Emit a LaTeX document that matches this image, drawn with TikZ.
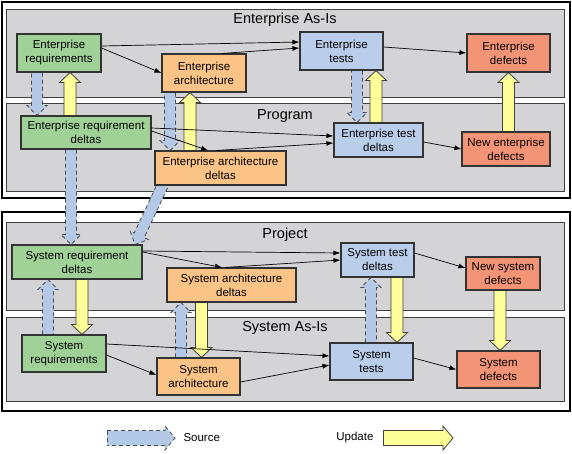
\documentclass[tikz,border=0pt]{standalone}
\usepackage{fontspec}
\setmainfont{Liberation Sans}
\usetikzlibrary{calc,arrows.meta}

\definecolor{panelgray}{RGB}{212,212,214}
\definecolor{reqgreen}{RGB}{160,210,152}
\definecolor{archorange}{RGB}{251,196,134}
\definecolor{testblue}{RGB}{186,205,235}
\definecolor{defred}{RGB}{244,148,118}
\definecolor{srcblue}{RGB}{180,200,232}
\definecolor{updyellow}{RGB}{255,255,153}

\pgfdeclarelayer{bg}
\pgfdeclarelayer{arr}
\pgfsetlayers{bg,arr,main}

% block arrow: style, shaft half width, head half width, from, to
\newcommand{\barrow}[5]{%
  \path (#4) coordinate (ba-s) (#5) coordinate (ba-e);
  \path ($(ba-e)!10pt!(ba-s)$) coordinate (ba-h);
  \filldraw[#1] ($(ba-s)!#2!90:(ba-e)$) coordinate (ba-1) -- ($(ba-h)!#2!90:(ba-e)$)
    -- ($(ba-h)!#3!90:(ba-e)$) -- (ba-e) -- ($(ba-h)!#3!-90:(ba-e)$)
    -- ($(ba-h)!#2!-90:(ba-e)$) -- ($(ba-s)!#2!-90:(ba-e)$) coordinate (ba-7);
}
% vertical block arrow at column x
\newcommand{\vbarrow}[6]{%
  \path (#4,0) coordinate (bx);
  \barrow{#1}{#2}{#3}{#5 -| bx}{#6 -| bx}
}

\tikzset{
  box/.style={draw=black!80, line width=1.1pt, align=center, inner sep=0pt,
    font=\fontsize{11.5}{14}\selectfont},
  reqbox/.style={box, fill=reqgreen},
  archbox/.style={box, fill=archorange},
  testbox/.style={box, fill=testblue},
  defbox/.style={box, fill=defred},
  panel/.style={draw=black!75, line width=0.8pt, fill=panelgray},
  outerbox/.style={draw=black, line width=1.6pt},
  paneltitle/.style={font=\fontsize{14.5}{16}\selectfont},
  flow/.style={-{Latex[length=7pt,width=5pt]}, line width=0.7pt},
  srcarrow/.style={fill=srcblue, draw=black!70, dash pattern=on 4pt off 3pt, line width=0.8pt},
  updarrow/.style={fill=updyellow, draw=black!75, line width=0.8pt}
}

\begin{document}
\begin{tikzpicture}[x=1pt,y=-1pt]
\useasboundingbox (0,0) rectangle (572,453);

\begin{pgfonlayer}{bg}
% outer frames
\fill[white] (0,0) rectangle (572,453);
\draw[outerbox] (2,2) rectangle (570,198);
\draw[outerbox] (2,212) rectangle (570,411);
% panels
\draw[panel] (6,9) rectangle (564,97);
\draw[panel] (6,103) rectangle (564,191);
\draw[panel] (6,222) rectangle (564,310);
\draw[panel] (6,317) rectangle (564,401);
\end{pgfonlayer}

% panel titles
\node[paneltitle] (tea) at (285,20) {Enterprise As-Is};
\node[paneltitle] (tprog) at (285,116) {Program};
\node[paneltitle] (tproj) at (285,235) {Project};
\node[paneltitle] (tsas) at (285,328) {System As-Is};

% enterprise as-is
\node[reqbox, minimum width=84pt, minimum height=38pt] (ereq) at (59,53) {Enterprise\\requirements};
\node[archbox, minimum width=84pt, minimum height=38pt] (earch) at (204,73) {Enterprise\\architecture};
\node[testbox, minimum width=83pt, minimum height=38pt] (etest) at (341.5,51) {Enterprise\\tests};
\node[defbox, minimum width=83pt, minimum height=38pt] (edef) at (508.5,53) {Enterprise\\defects};

% program
\node[reqbox, minimum width=130pt, minimum height=33pt] (ereqd) at (86,132.5) {Enterprise requirement\\deltas};
\node[archbox, minimum width=131pt, minimum height=34pt] (earchd) at (220.5,168) {Enterprise architecture\\deltas};
\node[testbox, minimum width=89pt, minimum height=34pt] (etestd) at (378.5,140) {Enterprise test\\deltas};
\node[defbox, minimum width=88pt, minimum height=34pt] (newedef) at (506,149) {New enterprise\\defects};

% project
\node[reqbox, minimum width=130pt, minimum height=34pt] (sreqd) at (77,262) {System requirement\\deltas};
\node[archbox, minimum width=129pt, minimum height=34pt] (sarchd) at (231.5,285) {System architecture\\deltas};
\node[testbox, minimum width=73pt, minimum height=34pt] (stestd) at (377.5,260) {System test\\deltas};
\node[defbox, minimum width=74pt, minimum height=33pt] (newsdef) at (503,273.5) {New system\\defects};

% system as-is
\node[reqbox, minimum width=84pt, minimum height=37pt] (sreq) at (64,353.5) {System\\requirements};
\node[archbox, minimum width=83pt, minimum height=37pt] (sarch) at (198.5,376.5) {System\\architecture};
\node[testbox, minimum width=83pt, minimum height=37pt] (stest) at (371.5,361.5) {System\\tests};
\node[defbox, minimum width=83pt, minimum height=37pt] (sdef) at (498.5,369.5) {System\\defects};

\begin{pgfonlayer}{arr}
% source arrows
\vbarrow{srcarrow}{5.5pt}{10pt}{37}{ereq.south}{ereqd.north}
\vbarrow{srcarrow}{5.5pt}{10pt}{170}{earch.south}{earchd.north}
\vbarrow{srcarrow}{5.5pt}{10pt}{357}{etest.south}{etestd.north}
\vbarrow{srcarrow}{5.5pt}{10pt}{71}{ereqd.south}{sreqd.north}
\barrow{srcarrow}{5.5pt}{10pt}{[xshift=-58pt]earchd.south}{[xshift=58pt]sreqd.north}
\vbarrow{srcarrow}{5.5pt}{10pt}{48}{sreq.north}{sreqd.south}
\vbarrow{srcarrow}{5.5pt}{10pt}{181}{sarch.north}{sarchd.south}
\vbarrow{srcarrow}{5.5pt}{10pt}{371}{stest.north}{stestd.south}

% update arrows
\vbarrow{updarrow}{6pt}{10.5pt}{70}{ereqd.north}{ereq.south}
\vbarrow{updarrow}{6pt}{10.5pt}{190}{earchd.north}{earch.south}
\vbarrow{updarrow}{6pt}{10.5pt}{376}{etestd.north}{etest.south}
\vbarrow{updarrow}{6pt}{10.5pt}{508.5}{newedef.north}{edef.south}
\vbarrow{updarrow}{6pt}{10.5pt}{82}{sreqd.south}{sreq.north}
\vbarrow{updarrow}{6pt}{10.5pt}{201.5}{sarchd.south}{sarch.north}
\vbarrow{updarrow}{6pt}{10.5pt}{397}{stestd.south}{stest.north}
\vbarrow{updarrow}{6pt}{10.5pt}{500}{newsdef.south}{sdef.north}
\end{pgfonlayer}

% enterprise flows
\draw[flow] ([yshift=7pt]ereq.east) -- ([yshift=9pt]etest.west);
\draw[flow] ([xshift=18pt]earch.north) -- ([yshift=3pt]etest.west);
\draw[flow] ([yshift=5pt]ereq.east) -- (earch.west);
\draw[flow] ([yshift=4pt]etest.east) -- (edef.west);
\draw[flow] ([yshift=4.5pt]ereqd.east) -- ([yshift=4pt]etestd.west);
\draw[flow] ([yshift=1.5pt]ereqd.east) -- ([xshift=-12.5pt]earchd.north);
\draw[flow] ([xshift=-4pt]earchd.north) -- ([yshift=-3pt]etestd.west);
\draw[flow] ([yshift=-2pt]etestd.east) -- (newedef.west);

% system flows
\draw[flow] ([yshift=11pt]sreqd.east) -- ([yshift=7pt]stestd.west);
\draw[flow] ([yshift=10pt]sreqd.east) -- ([xshift=-9.5pt]sarchd.north);
\draw[flow] ([xshift=-6.5pt]sarchd.north) -- (stestd.west);
\draw[flow] ([yshift=7pt]stestd.east) -- ([yshift=5.5pt]newsdef.west);
\draw[flow] ([yshift=9.5pt]sreq.east) -- ([yshift=5.5pt]stest.west);
\draw[flow] ([yshift=-1.5pt]sreq.east) -- ([yshift=1.5pt]sarch.west);
\draw[flow] ([yshift=-5.5pt]sarch.east) -- ([yshift=-3.5pt]stest.west);
\draw[flow] ([yshift=3.5pt]stest.east) -- (sdef.west);

% legend
\coordinate (srcs) at (107,438);
\coordinate (srce) at (175,438);
\coordinate (upds) at (383,438);
\coordinate (upde) at (453,438);
\barrow{srcarrow}{7.5pt}{12pt}{srcs}{srce}
\draw[srcarrow] (ba-1) -- (ba-7);
\barrow{updarrow}{7.5pt}{12pt}{upds}{upde}
\draw[updarrow] (ba-1) -- (ba-7);
\node[anchor=west, font=\fontsize{11.5}{14}\selectfont] (lsrc) at (180,438) {Source};
\node[anchor=east, font=\fontsize{11.5}{14}\selectfont] (lupd) at (377,438) {Update};

\end{tikzpicture}
\end{document}
